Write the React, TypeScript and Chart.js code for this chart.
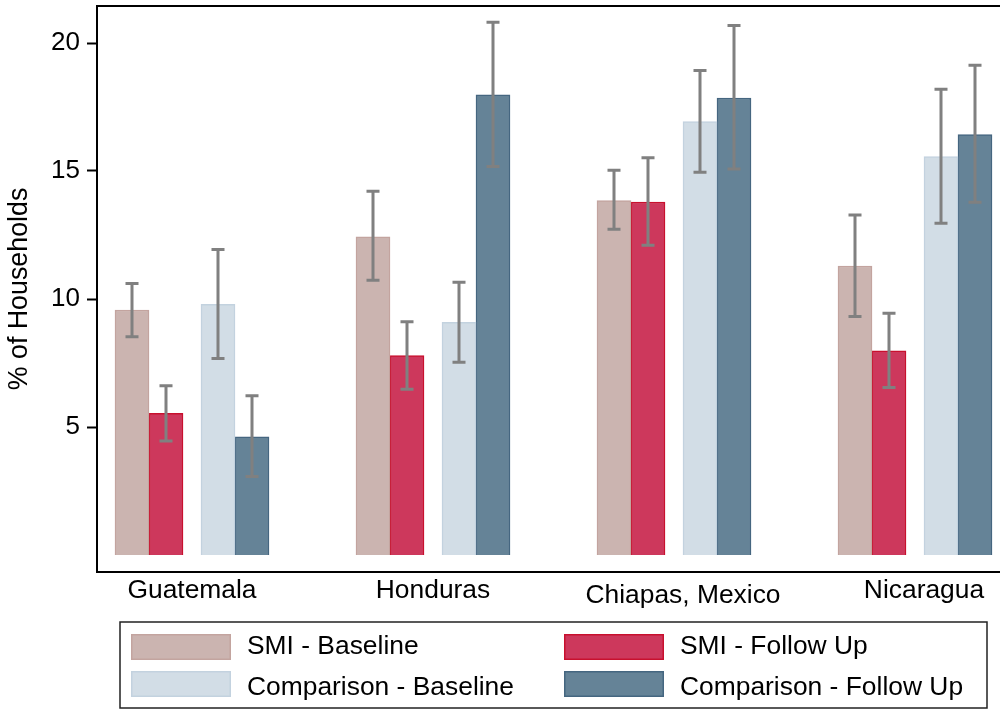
import React, { useEffect, useRef } from 'react';
import { Chart, registerables } from 'chart.js';

Chart.register(...registerables);

// ---------- data ----------
const countries = ['Guatemala', 'Honduras', 'Chiapas, Mexico', 'Nicaragua'];

const smiBaseline = [9.57, 12.43, 13.84, 11.29];
const smiBaselineLo = [8.53, 10.73, 12.72, 9.32];
const smiBaselineHi = [10.61, 14.21, 15.03, 13.28];

const smiFollowUp = [5.53, 7.79, 13.79, 7.98];
const smiFollowUpLo = [4.45, 6.47, 12.1, 6.54];
const smiFollowUpHi = [6.61, 9.11, 15.52, 9.44];

const compBaseline = [9.79, 9.09, 16.93, 15.56];
const compBaselineLo = [7.68, 7.53, 14.95, 12.96];
const compBaselineHi = [11.93, 10.65, 18.93, 18.19];

const compFollowUp = [4.62, 17.98, 17.85, 16.42];
const compFollowUpLo = [3.07, 15.18, 15.08, 13.78];
const compFollowUpHi = [6.22, 20.81, 20.68, 19.13];

const yTickValues = [5, 10, 15, 20];
const yTitle = '% of Households';

const FONT = '"Liberation Sans", Arial, Helvetica, sans-serif';

export default function App() {
  const ref = useRef<HTMLCanvasElement>(null);

  useEffect(() => {
    const canvas = ref.current;
    if (!canvas) return;

    // layout constants (pixels)
    const groupPx = 241;
    const barPx = 34;
    const gapPx = 18;
    const slotPx = [
      -(gapPx / 2 + 1.5 * barPx),
      -(gapPx / 2 + 0.5 * barPx),
      gapPx / 2 + 0.5 * barPx,
      gapPx / 2 + 1.5 * barPx,
    ];

    const series = [
      { label: 'SMI - Baseline', values: smiBaseline, lo: smiBaselineLo, hi: smiBaselineHi, fill: '#cbb4b0', line: '#c3a49f' },
      { label: 'SMI - Follow Up', values: smiFollowUp, lo: smiFollowUpLo, hi: smiFollowUpHi, fill: '#cd385c', line: '#c8102e' },
      { label: 'Comparison - Baseline', values: compBaseline, lo: compBaselineLo, hi: compBaselineHi, fill: '#d2dde6', line: '#c3d2df' },
      { label: 'Comparison - Follow Up', values: compFollowUp, lo: compFollowUpLo, hi: compFollowUpHi, fill: '#658397', line: '#456680' },
    ];

    const datasets = series.map((s, si) => ({
      label: s.label,
      data: s.values.map((v, gi) => ({ x: gi + slotPx[si] / groupPx, y: v })),
      backgroundColor: s.fill,
      borderColor: s.line,
      borderWidth: 1.5,
      borderSkipped: 'start' as const,
      grouped: false,
      barThickness: barPx,
      maxBarThickness: barPx,
    }));

    const errorBars = {
      id: 'errorBars',
      afterDatasetsDraw(chart: any) {
        const ctx = chart.ctx;
        const yScale = chart.scales.y;
        ctx.save();
        ctx.strokeStyle = '#808080';
        ctx.lineWidth = 3;
        ctx.lineCap = 'butt';
        series.forEach((s, si) => {
          const meta = chart.getDatasetMeta(si);
          meta.data.forEach((bar: any, gi: number) => {
            const x = bar.x;
            const yLo = yScale.getPixelForValue(s.lo[gi]);
            const yHi = yScale.getPixelForValue(s.hi[gi]);
            ctx.beginPath();
            ctx.moveTo(x, yLo);
            ctx.lineTo(x, yHi);
            ctx.moveTo(x - 6.5, yLo);
            ctx.lineTo(x + 6.5, yLo);
            ctx.moveTo(x - 6.5, yHi);
            ctx.lineTo(x + 6.5, yHi);
            ctx.stroke();
          });
        });
        ctx.restore();
      },
    };

    const decorations = {
      id: 'decorations',
      afterDraw(chart: any) {
        const ctx = chart.ctx;
        const area = chart.chartArea;
        const xScale = chart.scales.x;
        ctx.save();
        // top and bottom frame lines
        ctx.strokeStyle = '#000';
        ctx.lineWidth = 2;
        ctx.beginPath();
        ctx.moveTo(area.left - 1, area.top);
        ctx.lineTo(area.right, area.top);
        ctx.moveTo(area.left - 1, area.bottom);
        ctx.lineTo(area.right, area.bottom);
        ctx.stroke();

        // category labels
        const nudges = [[0, 0], [0, 0], [9, 5], [9, 0]];
        ctx.fillStyle = '#000';
        ctx.font = `26.4px ${FONT}`;
        ctx.textAlign = 'center';
        ctx.textBaseline = 'alphabetic';
        countries.forEach((c, gi) => {
          const x = xScale.getPixelForValue(gi) + nudges[gi][0];
          ctx.fillText(c, x, area.bottom + 26 + nudges[gi][1]);
        });

        // legend
        const lx = 120, ly = 622, lw = 867, lh = 86;
        ctx.strokeStyle = '#222';
        ctx.lineWidth = 1.5;
        ctx.strokeRect(lx, ly, lw, lh);
        const colX = [131, 564];
        const rowY = [634, 671];
        const rowBase = [654, 695];
        ctx.font = `26.4px ${FONT}`;
        ctx.textAlign = 'left';
        series.forEach((s, si) => {
          const col = si % 2;
          const row = Math.floor(si / 2);
          const sx = colX[col];
          const sy = rowY[row];
          ctx.fillStyle = s.fill;
          ctx.fillRect(sx, sy, 100, 26);
          ctx.strokeStyle = s.line;
          ctx.lineWidth = 1.5;
          ctx.strokeRect(sx + 0.75, sy + 0.75, 98.5, 24.5);
          ctx.fillStyle = '#000';
          ctx.fillText(s.label, sx + 116, rowBase[row]);
        });
        ctx.restore();
      },
    };

    const chart = new Chart(canvas, {
      type: 'bar',
      data: { datasets: datasets as any },
      options: {
        animation: false,
        responsive: false,
        devicePixelRatio: 1,
        layout: { padding: { top: 6, bottom: 137, left: 0, right: 0 } },
        plugins: {
          legend: { display: false },
          tooltip: { enabled: false },
        },
        scales: {
          x: {
            type: 'linear',
            display: false,
            min: -95 / 241,
            max: (1000 - 192) / 241,
            offset: false,
          },
          y: {
            type: 'linear',
            min: -17 / 25.6,
            max: 549 / 25.6,
            afterBuildTicks: (scale: any) => {
              scale.ticks = yTickValues.map((v) => ({ value: v }));
            },
            afterFit: (scale: any) => {
              scale.width = 97;
              scale.paddingTop = 0;
              scale.paddingBottom = 0;
            },
            border: { display: true, color: '#000', width: 2 },
            grid: {
              drawOnChartArea: false,
              drawTicks: true,
              tickLength: 10,
              tickWidth: 2,
              tickColor: '#000',
            },
            ticks: {
              padding: 7,
              color: '#000',
              font: { family: FONT, size: 26 },
              callback: (v: any) => String(v),
            },
            title: {
              display: true,
              text: yTitle,
              color: '#000',
              font: { family: FONT, size: 26.8 },
              padding: { top: 4, bottom: 0 },
            },
          },
        },
      },
      plugins: [errorBars, decorations],
    });

    return () => chart.destroy();
  }, []);

  return (
    <div style={{ position: 'absolute', left: 0, top: 0, width: 1000, height: 709, background: '#fff', overflow: 'hidden' }}>
      <canvas ref={ref} width={1000} height={709} style={{ display: 'block', width: 1000, height: 709 }} />
    </div>
  );
}
